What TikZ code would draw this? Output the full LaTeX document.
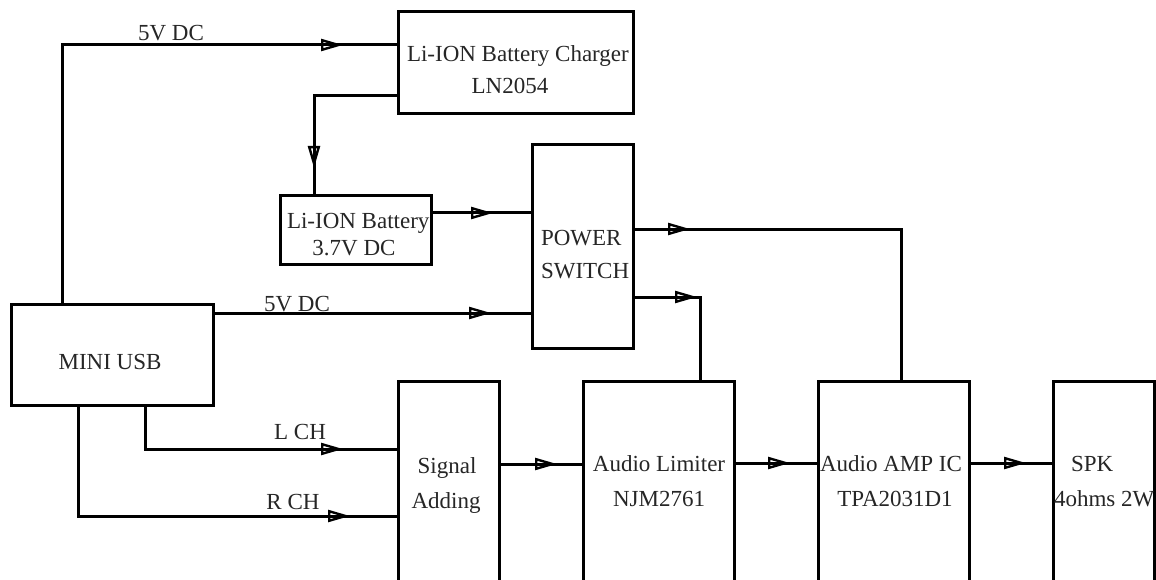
\documentclass[tikz,border=0pt]{standalone}
\usepackage{fontspec}
\setmainfont{Liberation Serif}
\usetikzlibrary{arrows.meta,decorations.markings}
\tikzset{
  blk/.style={draw, line width=3pt, rectangle, inner sep=0pt, outer sep=0pt},
  txt/.style={inner sep=0pt, outer sep=0pt, font=\fontsize{23}{27}\selectfont, text=black!85},
  wire/.style={line width=3pt},
  tipat/.style={postaction={decorate, decoration={markings,
     mark=at position #1 with {\arrow{Triangle[open,length=22pt,width=12pt,line width=2.4pt]}}}}}
}
\begin{document}
\begin{tikzpicture}[x=1pt,y=-1pt]
\useasboundingbox (0,0) rectangle (1156,580);
\clip (0,0) rectangle (1156,580);
\fill[white] (0,0) rectangle (1156,580);
% boxes
\node[blk, minimum width=235pt, minimum height=102pt] (chg) at (515.5,63) {};
\node[blk, minimum width=151pt, minimum height=68pt] (bat) at (355.5,230) {};
\node[blk, minimum width=101pt, minimum height=203pt] (ps) at (582.5,246.5) {};
\node[blk, minimum width=202pt, minimum height=101pt] (usb) at (112,354.5) {};
\node[blk, minimum width=101pt, minimum height=220pt] (sa) at (448.5,491) {};
\node[blk, minimum width=151pt, minimum height=220pt] (lim) at (658.5,491) {};
\node[blk, minimum width=151pt, minimum height=220pt] (amp) at (893.5,491) {};
\node[blk, minimum width=101pt, minimum height=220pt] (spk) at (1103.5,491) {};
% texts
\node[txt, anchor=base west] (tchg1) at (407,62) {Li-ION Battery Charger};
\node[txt, anchor=base] (tchg2) at (510,94) {LN2054};
\node[txt, anchor=base west] (tbat1) at (287,228) {Li-ION Battery};
\node[txt, anchor=base] (tbat2) at (354,255) {3.7V DC};
\node[txt, anchor=base west] (tps1) at (541,245) {POWER};
\node[txt, anchor=base west] (tps2) at (541,278) {SWITCH};
\node[txt, anchor=base] (tusb) at (110,369) {MINI USB};
\node[txt, anchor=base] (tsa1) at (447,473) {Signal};
\node[txt, anchor=base] (tsa2) at (446,508) {Adding};
\node[txt, anchor=base] (tlim1) at (659,471) {Audio Limiter};
\node[txt, anchor=base] (tlim2) at (659,506) {NJM2761};
\node[txt, anchor=base] (tamp1) at (891,471) {Audio AMP IC};
\node[txt, anchor=base] (tamp2) at (895,506) {TPA2031D1};
\node[txt, anchor=base west] (tspk1) at (1071,471) {SPK};
\node[txt, anchor=base west] (tspk2) at (1054,506) {4ohms 2W};
% labels
\node[txt, anchor=base] (l5a) at (171,41) {5V DC};
\node[txt, anchor=base] (l5b) at (297,311) {5V DC};
\node[txt, anchor=base] (llch) at (300,439) {L CH};
\node[txt, anchor=base] (lrch) at (293,509) {R CH};
% connectors
\draw[wire, tipat=540pt] (62,0 |- usb.north) |- (0,45 -| chg.west);
\draw[wire, tipat=156pt] (0,96 -| chg.west) -| (314,0 |- bat.north);
\draw[wire, tipat=62pt] (0,213 -| bat.east) -- (0,213 -| ps.west);
\draw[wire, tipat=278pt] (0,313 -| usb.east) -- (0,313 -| ps.west);
\draw[wire, tipat=57pt] (0,229 -| ps.east) -| (901,0 |- amp.north);
\draw[wire, tipat=64pt] (0,297 -| ps.east) -| (700,0 |- lim.north);
\draw[wire, tipat=242pt] (145,0 |- usb.south) |- (0,449 -| sa.west);
\draw[wire, tipat=383pt] (78,0 |- usb.south) |- (0,516 -| sa.west);
\draw[wire, tipat=58pt] (0,464 -| sa.east) -- (0,464 -| lim.west);
\draw[wire, tipat=56pt] (0,463 -| lim.east) -- (0,463 -| amp.west);
\draw[wire, tipat=57pt] (0,463 -| amp.east) -- (0,463 -| spk.west);
\end{tikzpicture}
\end{document}
